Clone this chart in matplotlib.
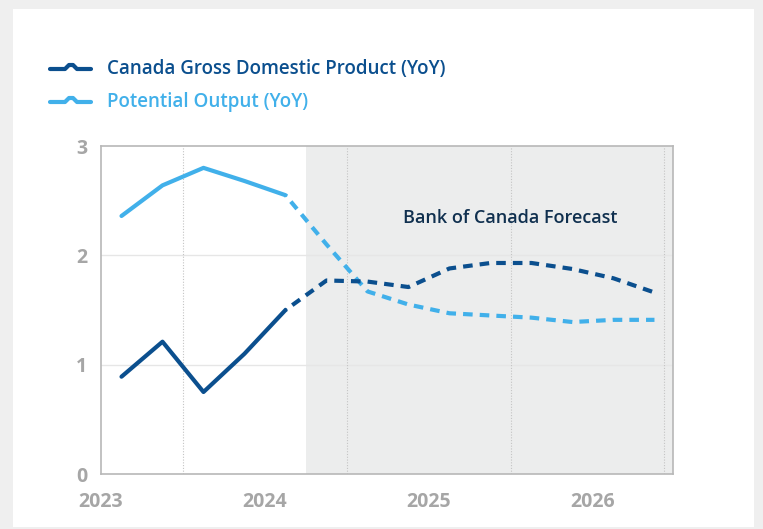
import matplotlib
matplotlib.use('Agg')
import matplotlib.pyplot as plt
from matplotlib.lines import Line2D
from matplotlib.patches import Rectangle
import numpy as np

# quarterly data, plotted at mid-quarter
quarters = ['2023Q1', '2023Q2', '2023Q3', '2023Q4',
            '2024Q1', '2024Q2', '2024Q3', '2024Q4',
            '2025Q1', '2025Q2', '2025Q3', '2025Q4',
            '2026Q1', '2026Q2']
gdp = [0.89, 1.21, 0.75, 1.10, 1.50, 1.77, 1.76, 1.71, 1.88, 1.93, 1.93, 1.875, 1.79, 1.66]
potential = [2.36, 2.64, 2.80, 2.68, 2.55, 2.10, 1.67, 1.55, 1.47, 1.45, 1.43, 1.39, 1.41, 1.41]
last_actual = '2024Q1'
forecast_start = 2024.25

year_ticks = [2023, 2024, 2025, 2026]
y_ticks = [0, 1, 2, 3]
gdp_label = 'Canada Gross Domestic Product (YoY)'
pot_label = 'Potential Output (YoY)'
forecast_label = 'Bank of Canada Forecast'

DARK = '#0b4f8e'
LIGHT = '#41b0ea'
TICK_GRAY = '#a6a6a6'
FONT = 'Open Sans'
LW = 3.0


def quarter_pos(q):
    return int(q[:4]) + (int(q[-1]) - 1) * 0.25 + 0.125


x = np.array([quarter_pos(q) for q in quarters])
split = quarters.index(last_actual)

fig = plt.figure(figsize=(7.63, 5.29), dpi=100)
fig.patch.set_facecolor('#efefef')
fig.add_artist(Rectangle((13 / 763, 2 / 529), (754 - 13) / 763, (520 - 2) / 529,
                         transform=fig.transFigure, facecolor='white', edgecolor='none', zorder=0))

ax = fig.add_axes([101 / 763, 1 - 474 / 529, (673 - 101) / 763, (474 - 146) / 529])
ax.set_xlim(2023, 2026.488)
ax.set_ylim(0, 3)

ax.axvspan(forecast_start, 2026.488, color='#eceded', lw=0, zorder=0)
for g in [1, 2]:
    ax.axhline(g, color='#e6e6e6', lw=1, zorder=1)
for v in [2023.5, 2024.5, 2025.5, 2026.433]:
    ax.axvline(v, color='#c4c4c4', lw=0.8, ls=(0, (1, 1.5)), zorder=1)

for series, color in [(potential, LIGHT), (gdp, DARK)]:
    s = np.array(series)
    ax.plot(x[:split + 1], s[:split + 1], color=color, lw=LW, solid_capstyle='round',
            solid_joinstyle='round', zorder=3)
    ax.plot(x[split:], s[split:], color=color, lw=LW, ls=(2, (2.3, 1.7)),
            dash_capstyle='butt', zorder=3)

ax.text(2025.494, 2.345, forecast_label, ha='center', va='center', fontsize=13,
        color='#10304f', family=FONT, fontweight='semibold')

ax.set_xticks(year_ticks)
ax.set_xticklabels([str(y) for y in year_ticks])
ax.set_yticks(y_ticks)
ax.tick_params(length=0, labelsize=14, labelcolor=TICK_GRAY)
ax.tick_params(axis='x', pad=13)
ax.tick_params(axis='y', pad=10)
for lab in ax.get_xticklabels() + ax.get_yticklabels():
    lab.set_family(FONT)
    lab.set_fontweight('bold')
for sp in ax.spines.values():
    sp.set_color('#b8b8b8')
    sp.set_linewidth(1.2)

# legend drawn by hand: line with a small bump in the middle
for row_y, color, label in [(69, DARK, gdp_label), (102, LIGHT, pot_label)]:
    hx = np.array([50, 65, 69, 73, 77, 91]) / 763
    hy = 1 - (row_y + np.array([0, 0, -4, -4, 0, 0])) / 529
    fig.add_artist(Line2D(hx, hy, color=color, lw=LW, solid_joinstyle='round',
                          solid_capstyle='round', transform=fig.transFigure))
    fig.text(107 / 763, 1 - row_y / 529, label, color=color, fontsize=13.5,
             family=FONT, fontweight='semibold', va='center', ha='left')

fig.savefig('out.png', dpi=100, facecolor=fig.get_facecolor())
